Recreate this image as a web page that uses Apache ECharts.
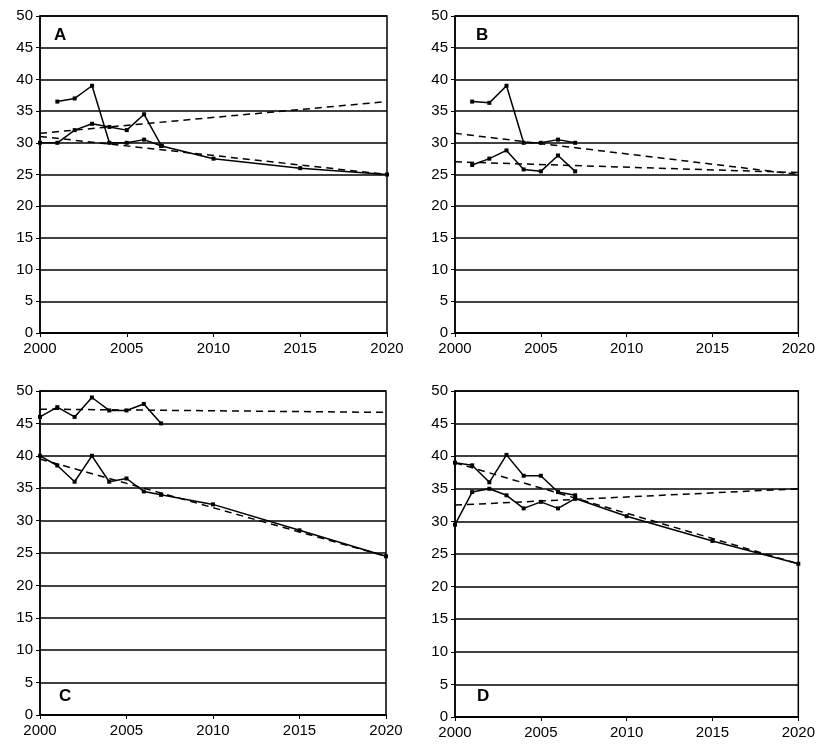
<!DOCTYPE html>
<html>
<head>
<meta charset="utf-8">
<script src="https://cdn.jsdelivr.net/npm/echarts@6/dist/echarts.min.js"></script>
<style>
html, body { margin: 0; padding: 0; background: #fff; }
#chart { width: 818px; height: 752px; }
</style>
</head>
<body>
<div id="chart"></div>
<script>
// observed years and panel data
const years = [2000, 2001, 2002, 2003, 2004, 2005, 2006, 2007];
const projYears = [2007, 2010, 2015, 2020];
const trendYears = [2000, 2020];

const aObsHigh = [null, 36.5, 37, 39, 30, 30, 30.5, 29.5];
const aObsLow = [30, 30, 32, 33, 32.5, 32, 34.5, 29.5];
const aTrendUp = [31.5, 36.5];
const aTrendDown = [31, 25];
const aProj = [29.5, 27.5, 26, 25];

const bObsHigh = [null, 36.5, 36.3, 39, 30, 30, 30.5, 30];
const bObsLow = [null, 26.5, 27.5, 28.8, 25.8, 25.5, 28, 25.5];
const bTrendDown = [31.5, 25];
const bTrendFlat = [27, 25.3];

const cObsHigh = [46, 47.5, 46, 49, 47, 47, 48, 45];
const cObsLow = [40, 38.5, 36, 40, 36, 36.5, 34.5, 34];
const cTrendFlat = [47.2, 46.7];
const cTrendDown = [39.5, 24.5];
const cProj = [34, 32.5, 28.5, 24.5];

const dObsHigh = [39, 38.6, 36, 40.2, 37, 37, 34.5, 34];
const dObsLow = [29.5, 34.5, 35, 34, 32, 33, 32, 33.5];
const dTrendUp = [32.5, 35];
const dTrendDown = [39, 23.5];
const dProj = [33.5, 30.8, 27, 23.5];

const panelLetters = ["A", "B", "C", "D"];

function pairs(xs, ys) {
    return xs.map(function (x, i) { return [x, ys[i]]; });
}

function solid(idx, xs, ys) {
    return {
        type: "line", xAxisIndex: idx, yAxisIndex: idx,
        data: pairs(xs, ys), connectNulls: false,
        symbol: "rect", symbolSize: 4, showSymbol: true,
        itemStyle: { color: "#000" },
        lineStyle: { color: "#000", width: 1.5 },
        animation: false, z: 4
    };
}

function dashed(idx, ys) {
    return {
        type: "line", xAxisIndex: idx, yAxisIndex: idx,
        data: pairs(trendYears, ys), showSymbol: false,
        lineStyle: { color: "#000", width: 1.5, type: [7, 5] },
        animation: false, z: 3
    };
}

const grids = [
    { left: 40, right: 431, top: 16, bottom: 419 },
    { left: 455, right: 19, top: 16, bottom: 419 },
    { left: 40, right: 432, top: 391, bottom: 37 },
    { left: 455, right: 16, top: 391, bottom: 35 }
];

const axisFont = { color: "#000", fontSize: 15, fontFamily: "Liberation Sans" };

let chart = echarts.init(document.getElementById("chart"));
chart.setOption({
    backgroundColor: "#fff",
    animation: false,
    title: [
        { text: panelLetters[0], left: 49, top: 22 },
        { text: panelLetters[1], left: 471, top: 22 },
        { text: panelLetters[2], left: 54, top: 683 },
        { text: panelLetters[3], left: 472, top: 683 }
    ].map(function (t) {
        t.textStyle = { color: "#000", fontSize: 17, fontWeight: "bold", fontFamily: "Liberation Sans" };
        return t;
    }),
    grid: grids.map(function (g) {
        return Object.assign({ show: true, borderColor: "#000", borderWidth: 1.5, backgroundColor: "#fff" }, g);
    }),
    xAxis: grids.map(function (g, i) {
        return {
            gridIndex: i, type: "value", min: 2000, max: 2020, interval: 5,
            axisLine: { lineStyle: { color: "#000", width: 1.5 } },
            axisTick: { show: true, length: 4, lineStyle: { color: "#000" } },
            axisLabel: Object.assign({ margin: 8, formatter: function (v) { return String(v); } }, axisFont),
            splitLine: { show: false }
        };
    }),
    yAxis: grids.map(function (g, i) {
        return {
            gridIndex: i, type: "value", min: 0, max: 50, interval: 5,
            axisLine: { show: true, lineStyle: { color: "#000", width: 1.5 } },
            axisTick: { show: true, length: 4, lineStyle: { color: "#000" } },
            axisLabel: Object.assign({ margin: 7 }, axisFont),
            splitLine: { show: true, lineStyle: { color: "#000", width: 1.5 } }
        };
    }),
    series: [
        solid(0, years, aObsHigh), solid(0, years, aObsLow),
        dashed(0, aTrendUp), dashed(0, aTrendDown),
        solid(0, projYears, aProj),

        solid(1, years, bObsHigh), solid(1, years, bObsLow),
        dashed(1, bTrendDown), dashed(1, bTrendFlat),

        solid(2, years, cObsHigh), solid(2, years, cObsLow),
        dashed(2, cTrendFlat), dashed(2, cTrendDown),
        solid(2, projYears, cProj),

        solid(3, years, dObsHigh), solid(3, years, dObsLow),
        dashed(3, dTrendUp), dashed(3, dTrendDown),
        solid(3, projYears, dProj)
    ]
});
</script>
</body>
</html>
